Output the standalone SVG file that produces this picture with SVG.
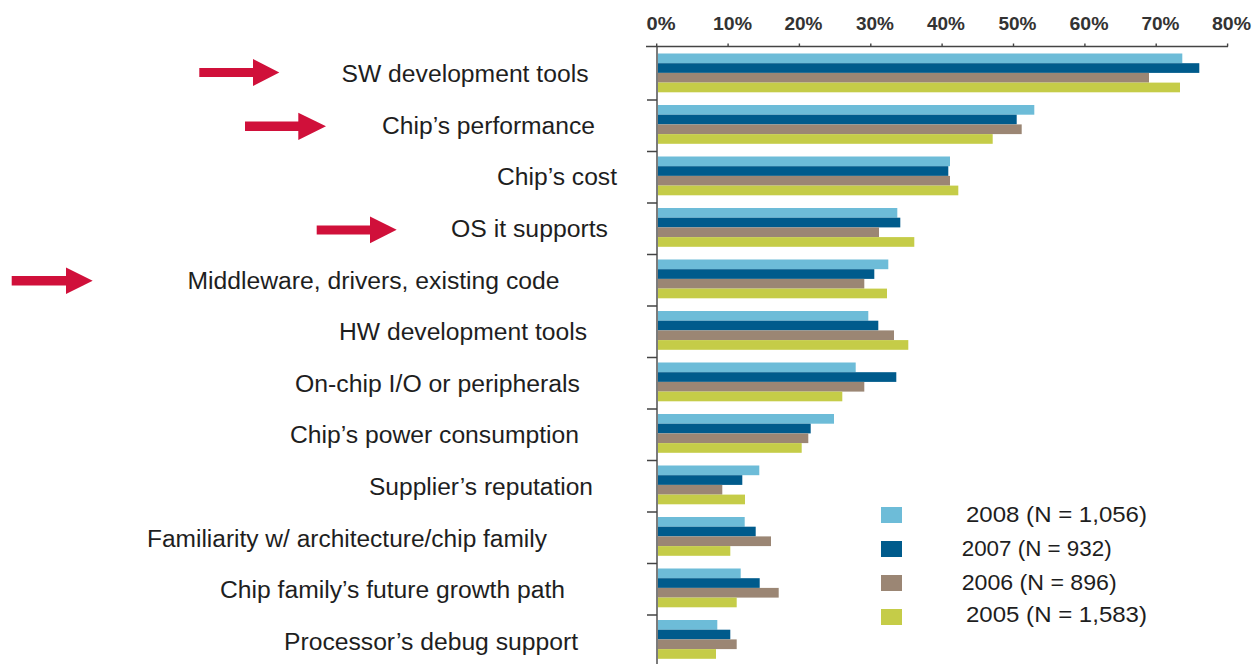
<svg xmlns="http://www.w3.org/2000/svg" width="1253" height="664" viewBox="0 0 1253 664">
<style>
.lbl{font-family:"Liberation Sans",Arial,sans-serif;font-size:23px;fill:#1e1e1e}
.ax{font-family:"Liberation Sans",Arial,sans-serif;font-size:19px;font-weight:bold;fill:#333;text-anchor:middle}
.leg{font-family:"Liberation Sans",Arial,sans-serif;font-size:22px;fill:#1e1e1e}
.c8{fill:#6dbcd8}.c7{fill:#005b8c}.c6{fill:#9b8674}.c5{fill:#c5cc48}
.axis{stroke:#444;stroke-width:1.4;fill:none}
.arr{fill:#d0103a}
</style>
<rect width="1253" height="664" fill="#fff"/>
<g id="axis">
<path class="axis" d="M646 46.5H1228M657 46.5V664"/>
<path class="axis" d="M656.7 43.5v3M728.1 43.5v3M799.4 43.5v3M870.8 43.5v3M942.1 43.5v3M1013.5 43.5v3M1084.9 43.5v3M1156.2 43.5v3M1227.6 43.5v3"/>
<path class="axis" d="M647 100H657M647 151.5H657M647 203H657M647 254.5H657M647 306H657M647 357.5H657M647 409H657M647 460.5H657M647 512H657M647 563.5H657M647 615H657"/>
<text class="ax" x="661" y="30" textLength="29" lengthAdjust="spacingAndGlyphs">0%</text>
<text class="ax" x="732.5" y="30" textLength="39" lengthAdjust="spacingAndGlyphs">10%</text>
<text class="ax" x="803.5" y="30" textLength="38" lengthAdjust="spacingAndGlyphs">20%</text>
<text class="ax" x="875" y="30" textLength="38" lengthAdjust="spacingAndGlyphs">30%</text>
<text class="ax" x="946" y="30" textLength="38" lengthAdjust="spacingAndGlyphs">40%</text>
<text class="ax" x="1017.5" y="30" textLength="38" lengthAdjust="spacingAndGlyphs">50%</text>
<text class="ax" x="1089" y="30" textLength="39" lengthAdjust="spacingAndGlyphs">60%</text>
<text class="ax" x="1160.5" y="30" textLength="38" lengthAdjust="spacingAndGlyphs">70%</text>
<text class="ax" x="1231.5" y="30" textLength="39" lengthAdjust="spacingAndGlyphs">80%</text>
</g>
<g id="cat0">
<text class="lbl" x="341.5" y="82" textLength="247" lengthAdjust="spacingAndGlyphs">SW development tools</text>
<rect class="c8" x="658" y="53.5" width="524.3" height="9.7"/>
<rect class="c7" x="658" y="63.2" width="541.3" height="9.7"/>
<rect class="c6" x="658" y="72.9" width="491" height="9.7"/>
<rect class="c5" x="658" y="82.6" width="522" height="9.7"/>
</g>
<g id="cat1">
<text class="lbl" x="382" y="133.7" textLength="213" lengthAdjust="spacingAndGlyphs">Chip’s performance</text>
<rect class="c8" x="658" y="105" width="376.3" height="9.7"/>
<rect class="c7" x="658" y="114.7" width="358.7" height="9.7"/>
<rect class="c6" x="658" y="124.4" width="363.7" height="9.7"/>
<rect class="c5" x="658" y="134.1" width="334.7" height="9.7"/>
</g>
<g id="cat2">
<text class="lbl" x="497" y="185.3" textLength="120" lengthAdjust="spacingAndGlyphs">Chip’s cost</text>
<rect class="c8" x="658" y="156.5" width="292" height="9.7"/>
<rect class="c7" x="658" y="166.2" width="290.3" height="9.7"/>
<rect class="c6" x="658" y="175.9" width="292" height="9.7"/>
<rect class="c5" x="658" y="185.6" width="300.3" height="9.7"/>
</g>
<g id="cat3">
<text class="lbl" x="451" y="236.9" textLength="157" lengthAdjust="spacingAndGlyphs">OS it supports</text>
<rect class="c8" x="658" y="208" width="239.3" height="9.7"/>
<rect class="c7" x="658" y="217.7" width="242.3" height="9.7"/>
<rect class="c6" x="658" y="227.4" width="221" height="9.7"/>
<rect class="c5" x="658" y="237.1" width="256.3" height="9.7"/>
</g>
<g id="cat4">
<text class="lbl" x="187.5" y="288.5" textLength="372" lengthAdjust="spacingAndGlyphs">Middleware, drivers, existing code</text>
<rect class="c8" x="658" y="259.5" width="230.3" height="9.7"/>
<rect class="c7" x="658" y="269.2" width="216.3" height="9.7"/>
<rect class="c6" x="658" y="278.9" width="206.3" height="9.7"/>
<rect class="c5" x="658" y="288.6" width="229" height="9.7"/>
</g>
<g id="cat5">
<text class="lbl" x="339" y="340.1" textLength="248" lengthAdjust="spacingAndGlyphs">HW development tools</text>
<rect class="c8" x="658" y="311" width="210.3" height="9.7"/>
<rect class="c7" x="658" y="320.7" width="220.3" height="9.7"/>
<rect class="c6" x="658" y="330.4" width="236" height="9.7"/>
<rect class="c5" x="658" y="340.1" width="250.3" height="9.7"/>
</g>
<g id="cat6">
<text class="lbl" x="295" y="391.7" textLength="285" lengthAdjust="spacingAndGlyphs">On-chip I/O or peripherals</text>
<rect class="c8" x="658" y="362.5" width="197.7" height="9.7"/>
<rect class="c7" x="658" y="372.2" width="238.3" height="9.7"/>
<rect class="c6" x="658" y="381.9" width="206.3" height="9.7"/>
<rect class="c5" x="658" y="391.6" width="184.3" height="9.7"/>
</g>
<g id="cat7">
<text class="lbl" x="290" y="443.3" textLength="289" lengthAdjust="spacingAndGlyphs">Chip’s power consumption</text>
<rect class="c8" x="658" y="414" width="176" height="9.7"/>
<rect class="c7" x="658" y="423.7" width="152.7" height="9.7"/>
<rect class="c6" x="658" y="433.4" width="150.3" height="9.7"/>
<rect class="c5" x="658" y="443.1" width="143.7" height="9.7"/>
</g>
<g id="cat8">
<text class="lbl" x="369" y="494.9" textLength="224" lengthAdjust="spacingAndGlyphs">Supplier’s reputation</text>
<rect class="c8" x="658" y="465.5" width="101.3" height="9.7"/>
<rect class="c7" x="658" y="475.2" width="84.3" height="9.7"/>
<rect class="c6" x="658" y="484.9" width="64.3" height="9.7"/>
<rect class="c5" x="658" y="494.6" width="87" height="9.7"/>
</g>
<g id="cat9">
<text class="lbl" x="147" y="546.5" textLength="400" lengthAdjust="spacingAndGlyphs">Familiarity w/ architecture/chip family</text>
<rect class="c8" x="658" y="517" width="86.7" height="9.7"/>
<rect class="c7" x="658" y="526.7" width="97.7" height="9.7"/>
<rect class="c6" x="658" y="536.4" width="113" height="9.7"/>
<rect class="c5" x="658" y="546.1" width="72.3" height="9.7"/>
</g>
<g id="cat10">
<text class="lbl" x="220" y="598.1" textLength="345" lengthAdjust="spacingAndGlyphs">Chip family’s future growth path</text>
<rect class="c8" x="658" y="568.5" width="82.7" height="9.7"/>
<rect class="c7" x="658" y="578.2" width="101.7" height="9.7"/>
<rect class="c6" x="658" y="587.9" width="120.7" height="9.7"/>
<rect class="c5" x="658" y="597.6" width="78.7" height="9.7"/>
</g>
<g id="cat11">
<text class="lbl" x="284" y="649.7" textLength="294" lengthAdjust="spacingAndGlyphs">Processor’s debug support</text>
<rect class="c8" x="658" y="620" width="59.3" height="9.7"/>
<rect class="c7" x="658" y="629.7" width="72.3" height="9.7"/>
<rect class="c6" x="658" y="639.4" width="78.7" height="9.7"/>
<rect class="c5" x="658" y="649.1" width="58" height="9.7"/>
</g>
<g id="legend">
<rect class="c8" x="881" y="507" width="21" height="16"/>
<rect class="c7" x="881" y="541" width="21" height="16"/>
<rect class="c6" x="881" y="575" width="21" height="16"/>
<rect class="c5" x="881" y="609" width="21" height="16"/>
<text class="leg" x="966" y="521.5" textLength="181" lengthAdjust="spacingAndGlyphs">2008 (N = 1,056)</text>
<text class="leg" x="961.7" y="555.5" textLength="150" lengthAdjust="spacingAndGlyphs">2007 (N = 932)</text>
<text class="leg" x="961.7" y="589.5" textLength="155" lengthAdjust="spacingAndGlyphs">2006 (N = 896)</text>
<text class="leg" x="966" y="622" textLength="181" lengthAdjust="spacingAndGlyphs">2005 (N = 1,583)</text>
</g>
<g id="arrows">
<polygon class="arr" points="199.3,68 253,68 253,59 279.3,72.5 253,86 253,77 199.3,77"/>
<polygon class="arr" points="245,121.5 298.3,121.5 298.3,112.7 326,126.3 298.3,140 298.3,131 245,131"/>
<polygon class="arr" points="316.7,225.5 370,225.5 370,216.5 396.7,229.8 370,243.3 370,234.5 316.7,234.5"/>
<polygon class="arr" points="11.7,276 66,276 66,267.5 92.7,280.8 66,294 66,285.5 11.7,285.5"/>
</g>
</svg>
